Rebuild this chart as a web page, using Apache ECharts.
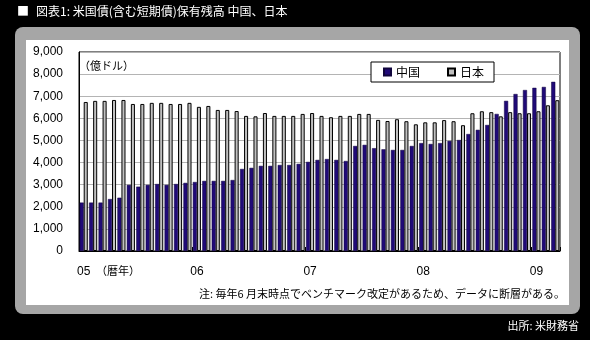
<!DOCTYPE html>
<html><head><meta charset="utf-8">
<script src="https://cdn.jsdelivr.net/npm/echarts/dist/echarts.min.js"></script>
<style>html,body{margin:0;padding:0;background:#000}#c{width:590px;height:340px}</style>
</head><body><div id="c"></div>
<script>
// Categories: monthly, Jan 2005 - Mar 2009
const months = [
 '2005/01','2005/02','2005/03','2005/04','2005/05','2005/06','2005/07','2005/08','2005/09','2005/10','2005/11','2005/12',
 '2006/01','2006/02','2006/03','2006/04','2006/05','2006/06','2006/07','2006/08','2006/09','2006/10','2006/11','2006/12',
 '2007/01','2007/02','2007/03','2007/04','2007/05','2007/06','2007/07','2007/08','2007/09','2007/10','2007/11','2007/12',
 '2008/01','2008/02','2008/03','2008/04','2008/05','2008/06','2008/07','2008/08','2008/09','2008/10','2008/11','2008/12',
 '2009/01','2009/02','2009/03'
];
// 億ドル
const china = [
 2190,2190,2190,2350,2410,2990,2910,2990,3030,2990,3030,3080,
 3120,3170,3170,3170,3210,3710,3760,3850,3850,3890,3890,3940,
 4030,4120,4160,4120,4070,4750,4800,4650,4600,4570,4570,4750,
 4880,4840,4880,4980,5020,5290,5480,5700,6200,6790,7100,7280,
 7380,7420,7650
];
const japan = [
 6740,6790,6790,6830,6830,6650,6650,6700,6700,6650,6650,6700,
 6520,6560,6380,6380,6330,6110,6090,6240,6110,6110,6110,6200,
 6240,6110,6050,6110,6110,6200,6200,5930,5880,5960,5870,5730,
 5820,5820,5920,5870,5690,6230,6320,6280,6090,6280,6230,6230,
 6320,6590,6820
];
const seriesNames = ['中国','日本'];
const yTicks = [0,1000,2000,3000,4000,5000,6000,7000,8000,9000];

const chart = echarts.init(document.getElementById('c'), null, {renderer:'canvas'});
const cjk = '"Noto Sans CJK JP", "Noto Sans", sans-serif';
const latin = '"Liberation Sans", Arial, sans-serif';

chart.setOption({
  backgroundColor: '#000',
  animation: false,
  graphic: [
    {type:'rect', z:-10, shape:{x:15,y:27,width:565,height:287,r:8}, style:{fill:'#a6a6a6'}},
    {type:'rect', z:-9, shape:{x:26,y:40,width:543,height:265}, style:{fill:'#fff'}},
    {type:'text', z:100, left:17, top:5, style:{text:'■', fill:'#fff', font:'12px '+cjk}},
    {type:'text', z:100, left:36, top:5, style:{text:'図表1: 米国債(含む短期債)保有残高 中国、日本', fill:'#fff', font:'12px '+cjk}},
    {type:'text', z:100, left:79, top:60, style:{text:'（億ドル）', fill:'#000', font:'11px '+cjk}},
    {type:'text', z:100, left:96, top:265, style:{text:'（暦年）', fill:'#000', font:'11px '+cjk}},
    {type:'text', z:100, right:25, top:288, style:{text:'注: 毎年6 月末時点でベンチマーク改定があるため、データに断層がある。', fill:'#000', font:'11px '+cjk}},
    {type:'text', z:100, right:11, top:320, style:{text:'出所: 米財務省', fill:'#fff', font:'11px '+cjk}}
  ],
  grid: {left:79, top:52, width:481, height:199, show:true, borderColor:'#000', borderWidth:1, backgroundColor:'transparent'},
  legend: {
    left:371, top:62, itemWidth:7, itemHeight:7, itemGap:27, icon:'rect',
    padding:[4,10,4,12], borderColor:'#000', borderWidth:1, backgroundColor:'#fff',
    textStyle:{fontFamily:cjk, fontSize:12, color:'#000'},
    data: seriesNames
  },
  xAxis: {
    type:'category', data: months, boundaryGap:true,
    axisLine:{show:true, lineStyle:{color:'#000', width:1}},
    axisTick:{show:true, inside:true, length:4, interval:(i)=>i%12===0, lineStyle:{color:'#000'}},
    axisLabel:{interval:0, margin:15, color:'#000', fontFamily:latin, fontSize:12,
      formatter:(v)=> v.endsWith('/01') ? v.slice(2,4) : ''}
  },
  yAxis: {
    type:'value', min:0, max:9000, interval:1000,
    axisLine:{show:true, lineStyle:{color:'#000'}},
    axisTick:{show:false},
    splitLine:{lineStyle:{color:'#b4b4b4', width:1}},
    axisLabel:{margin:16, color:'#000', fontFamily:latin, fontSize:12,
      formatter:(v)=> v.toLocaleString('en-US')}
  },
  series: [
    {name:seriesNames[0], type:'bar', data:china, barGap:'0%', barCategoryGap:'14%',
     itemStyle:{color:'#200a78', borderColor:'#10053c', borderWidth:0.5}},
    {name:seriesNames[1], type:'bar', data:japan, barGap:'0%', barCategoryGap:'14%',
     itemStyle:{color:'#c0c0c0', borderColor:'#000', borderWidth:1}}
  ]
});
</script></body></html>
